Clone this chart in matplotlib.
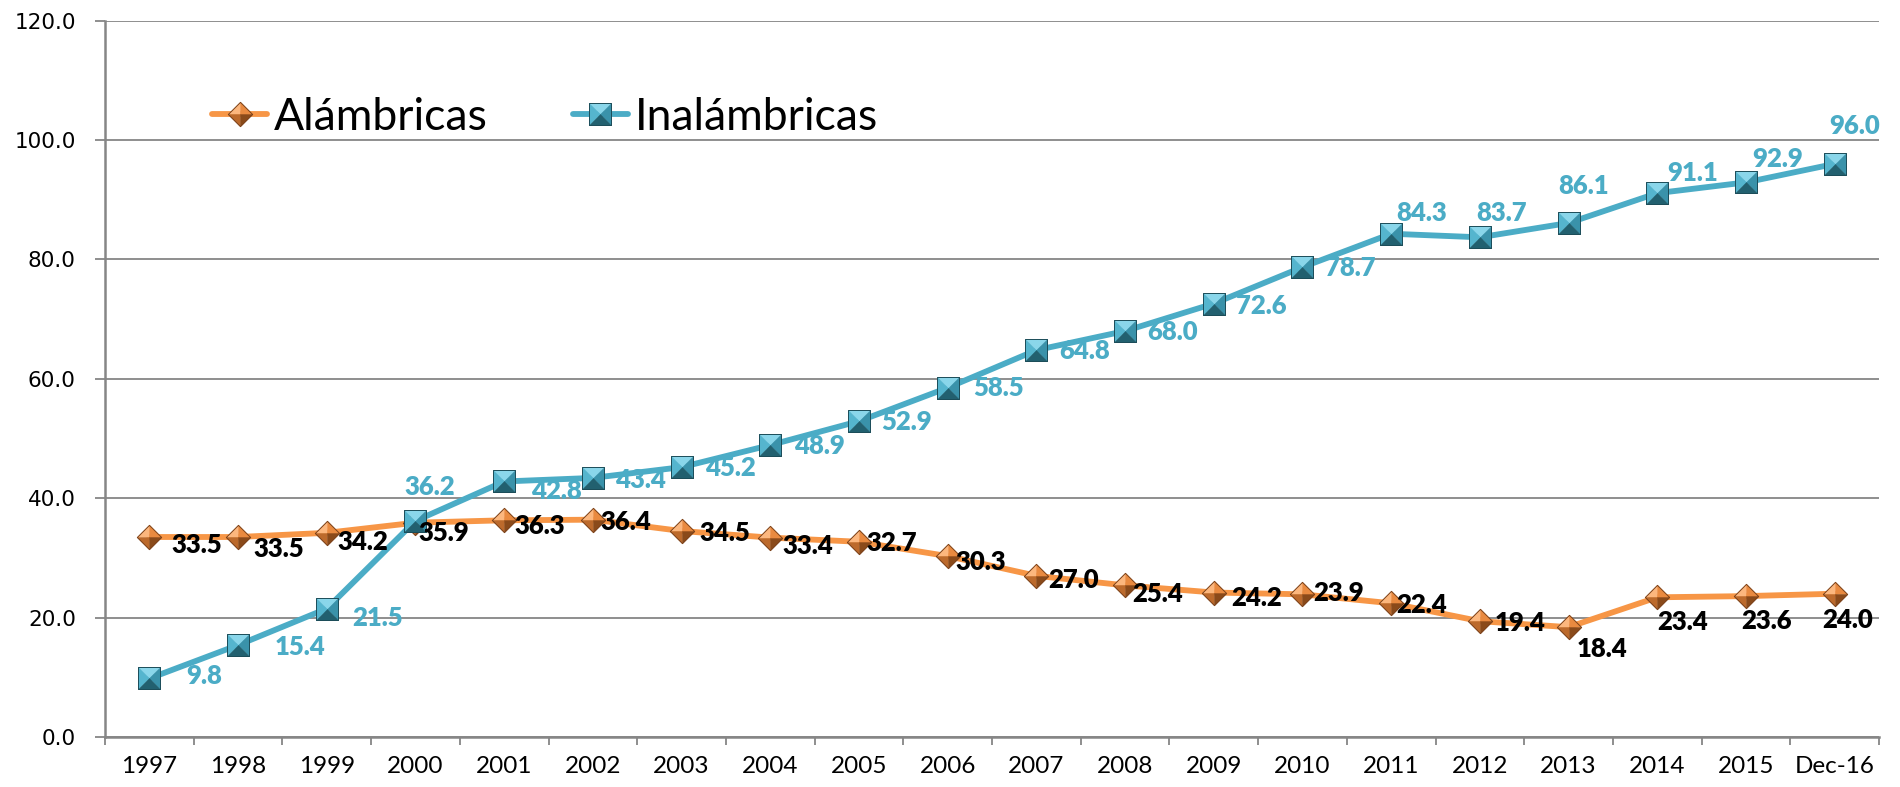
import numpy as np
import matplotlib
matplotlib.use("Agg")
import matplotlib.pyplot as plt
from matplotlib.path import Path
from matplotlib.legend_handler import HandlerTuple

years = ['1997', '1998', '1999', '2000', '2001', '2002', '2003', '2004', '2005', '2006',
         '2007', '2008', '2009', '2010', '2011', '2012', '2013', '2014', '2015', 'Dec-16']
alambricas = [33.5, 33.5, 34.2, 35.9, 36.3, 36.4, 34.5, 33.4, 32.7, 30.3,
              27.0, 25.4, 24.2, 23.9, 22.4, 19.4, 18.4, 23.4, 23.6, 24.0]
inalambricas = [9.8, 15.4, 21.5, 36.2, 42.8, 43.4, 45.2, 48.9, 52.9, 58.5,
                64.8, 68.0, 72.6, 78.7, 84.3, 83.7, 86.1, 91.1, 92.9, 96.0]
yticks = [0, 20, 40, 60, 80, 100, 120]

# label offsets (pixels) from each point, as placed in the original
off_alam = [(47, -8), (41, -12), (36, -9), (28, -10), (36, -6), (33, -2), (43, -2), (38, -8),
            (33, -1), (33, -6), (37, -4), (33, -9), (43, -5), (36, 1), (30, -2), (40, -2),
            (33, -22), (25, -25), (21, -25), (13, -26)]
off_inal = [(55, 2), (62, -2), (51, -9), (14, 34), (52, -10), (48, -2), (49, -1), (49, -1),
            (48, -1), (51, 0), (48, -1), (48, -1), (48, -2), (48, -1), (30, 21), (22, 24),
            (15, 37), (35, 20), (32, 23), (20, 38)]

ORANGE = '#F79646'
BLUE = '#4BACC6'
GRID = '#868686'

fig = plt.figure(figsize=(19, 7.87), dpi=100)
ax = fig.add_axes([105 / 1900, 50 / 787, 1774 / 1900, 716.4 / 787])
x = np.arange(len(years))


def tri(pts):
    return Path(pts + [pts[0]], closed=True)


# pyramid-looking markers made of four triangles
sq_paths = [tri([(-1, 1), (1, 1), (0, 0)]), tri([(-1, -1), (-1, 1), (0, 0)]),
            tri([(1, 1), (1, -1), (0, 0)]), tri([(1, -1), (-1, -1), (0, 0)])]
sq_cols = ['#8AD6EA', '#55B5CE', '#3A92AA', '#22606F']
dm_paths = [tri([(0, 0), (-1, 0), (0, 1)]), tri([(0, 0), (0, 1), (1, 0)]),
            tri([(0, 0), (0, -1), (-1, 0)]), tri([(0, 0), (1, 0), (0, -1)])]
dm_cols = ['#FCB77E', '#E98A40', '#BC6A2C', '#8A4A1A']


def markers(yv, paths, cols, size, z, edge):
    hs = []
    for p, c in zip(paths, cols):
        h, = ax.plot(x, yv, ls='none', marker=p, ms=size, mfc=c, mec=c, mew=0.3, zorder=z)
        hs.append(h)
    outline = Path([(0, 1), (1, 0), (0, -1), (-1, 0), (0, 1)], closed=True) if paths is dm_paths \
        else Path([(-1, 1), (1, 1), (1, -1), (-1, -1), (-1, 1)], closed=True)
    h, = ax.plot(x, yv, ls='none', marker=outline, ms=size, mfc='none', mec=edge, mew=0.7, zorder=z)
    hs.append(h)
    return hs


l1, = ax.plot(x, alambricas, color=ORANGE, lw=4.2, zorder=3, solid_capstyle='round')
m1 = markers(alambricas, dm_paths, dm_cols, 17.5, 4, '#7A4018')
l2, = ax.plot(x, inalambricas, color=BLUE, lw=4.2, zorder=5, solid_capstyle='round')
m2 = markers(inalambricas, sq_paths, sq_cols, 16, 6, '#1B4C58')

for i in range(len(years)):
    ax.annotate('%.1f' % alambricas[i], (x[i], alambricas[i]), xytext=off_alam[i],
                textcoords='offset pixels', ha='center', va='center',
                fontsize=18.5, fontweight='heavy', family='Lato', color='black', zorder=10)
    ax.annotate('%.1f' % inalambricas[i], (x[i], inalambricas[i]), xytext=off_inal[i],
                textcoords='offset pixels', ha='center', va='center',
                fontsize=18.5, fontweight='heavy', family='Lato', color=BLUE, zorder=10)

ax.set_xlim(-0.5, len(years) - 0.5)
ax.set_ylim(0, 120)
ax.set_yticks(yticks)
ax.set_yticklabels(['%.1f' % v for v in yticks], fontsize=15.5, family='DejaVu Sans')
ax.yaxis.grid(True, color=GRID, lw=1.3)
ax.set_axisbelow(True)
ax.tick_params(axis='y', length=7, width=1.3, color=GRID, pad=14)

ax.set_xticks(np.arange(-0.5, len(years), 1.0))
ax.set_xticklabels([])
ax.set_xticks(x, minor=True)
ax.set_xticklabels(years, minor=True, fontsize=17.5, family='Lato')
ax.tick_params(axis='x', which='major', length=6, width=1.3, color=GRID)
ax.tick_params(axis='x', which='minor', length=0, pad=14)

for s in ['top', 'right']:
    ax.spines[s].set_visible(False)
for s in ['left', 'bottom']:
    ax.spines[s].set_color(GRID)
    ax.spines[s].set_linewidth(1.8)

fig.legend([tuple([l1] + m1), tuple([l2] + m2)], ['Alámbricas', 'Inalámbricas'],
           handler_map={tuple: HandlerTuple(ndivide=1, pad=0)},
           loc='center left', bbox_to_anchor=(212 / 1900, 1 - 117 / 787),
           ncol=2, frameon=False, borderpad=0, borderaxespad=0, numpoints=1,
           handlelength=1.24, handletextpad=0.16, columnspacing=1.9,
           prop={'family': 'Lato', 'size': 32})

fig.savefig('out.png', dpi=100)
